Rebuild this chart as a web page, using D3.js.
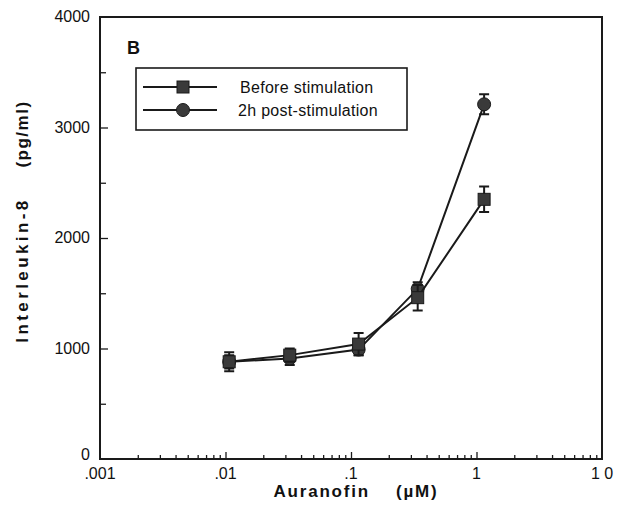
<!DOCTYPE html>
<html>
<head>
<meta charset="utf-8">
<script src="https://cdn.jsdelivr.net/npm/d3@7"></script>
<style>
  html, body { margin: 0; padding: 0; background: #fff; }
  svg { display: block; }
  text { font-family: "Liberation Sans", Arial, Helvetica, sans-serif; fill: #111; }
</style>
</head>
<body>
<svg id="chart" width="624" height="505"></svg>
<script>
// Auranofin concentrations (µM) and IL-8 levels (pg/ml)
const doses = [0.0107, 0.0325, 0.115, 0.34, 1.15];
const beforeStim = [880, 940, 1040, 1460, 2350];
const beforeErr = [85, 60, 100, 115, 115];
const postStim = [880, 910, 990, 1540, 3210];
const postErr = [60, 60, 50, 60, 90];
const yTicks = [0, 1000, 2000, 3000, 4000];
const xTicks = [0.001, 0.01, 0.1, 1, 10];
const xTickLabels = [".001", ".01", ".1", "1", "1 0"];
const seriesNames = ["Before stimulation", "2h post-stimulation"];

const svg = d3.select("#chart");
const ink = "#1a1a1a";
const markFill = "#3a3a3a";

const x = d3.scaleLog().domain([0.001, 10]).range([100, 602]);
const y = d3.scaleLinear().domain([0, 4000]).range([459, 17]);

// plot frame
svg.append("rect")
  .attr("x", x.range()[0]).attr("y", y.range()[1])
  .attr("width", x.range()[1] - x.range()[0])
  .attr("height", y.range()[0] - y.range()[1])
  .attr("fill", "none").attr("stroke", ink).attr("stroke-width", 2);

// left axis: major ticks at 1000s, minor at 500s, pointing inward
const yAxis = svg.append("g").attr("transform", `translate(${x.range()[0]},0)`);
yAxis.call(d3.axisRight(y).tickValues(d3.range(500, 4000, 1000)).tickSize(6).tickFormat(""));
yAxis.call(g => g.select(".domain").remove());
const yMajor = svg.append("g").attr("transform", `translate(${x.range()[0]},0)`);
yMajor.call(d3.axisRight(y).tickValues(yTicks.slice(1, -1)).tickSize(8).tickFormat(""));
yMajor.call(g => g.select(".domain").remove());
svg.selectAll(".tick line").attr("stroke", ink).attr("stroke-width", 1.5);

// the zero label sits a little higher so it clears the first x label
svg.append("g").selectAll("text").data(yTicks).join("text")
  .attr("x", 90).attr("y", d => y(d) + (d === 0 ? 1 : 5))
  .attr("text-anchor", "end")
  .style("font-size", "16px")
  .text(d => d);

// bottom axis: log ticks pointing inward
const minor = [];
for (let e = -3; e < 1; e++) {
  for (let m = 2; m <= 9; m++) minor.push(m * Math.pow(10, e));
}
const xMinor = svg.append("g").attr("transform", `translate(0,${y.range()[0]})`);
xMinor.call(d3.axisTop(x).tickValues(minor).tickSize(4).tickFormat(""));
xMinor.call(g => g.select(".domain").remove());
const xMajor = svg.append("g").attr("transform", `translate(0,${y.range()[0]})`);
xMajor.call(d3.axisTop(x).tickValues(xTicks.slice(1, -1)).tickSize(7).tickFormat(""));
xMajor.call(g => g.select(".domain").remove());
svg.selectAll(".tick line").attr("stroke", ink).attr("stroke-width", 1.3);

svg.append("g").selectAll("text").data(xTicks).join("text")
  .attr("x", d => x(d)).attr("y", 479)
  .attr("text-anchor", "middle")
  .style("font-size", "16px")
  .text((d, i) => xTickLabels[i]);

// axis titles
svg.append("text")
  .attr("x", 356).attr("y", 497)
  .attr("text-anchor", "middle")
  .style("font-size", "17px").style("font-weight", "bold").style("letter-spacing", "1.8px")
  .attr("xml:space", "preserve")
  .text("Auranofin    (\u00b5M)");

const yTitle = svg.append("g").attr("transform", "translate(28,0) rotate(-90)");
yTitle.append("text")
  .attr("x", -270).attr("y", 0)
  .attr("text-anchor", "middle")
  .style("font-size", "17px").style("font-weight", "bold").style("letter-spacing", "3.4px")
  .text("Interleukin-8");
yTitle.append("text")
  .attr("x", -134).attr("y", 0)
  .attr("text-anchor", "middle")
  .style("font-size", "17px").style("font-weight", "bold").style("letter-spacing", "1.5px")
  .text("(pg/ml)");

// panel letter
svg.append("text")
  .attr("x", 127).attr("y", 54)
  .style("font-size", "18px").style("font-weight", "bold")
  .text("B");

// series
const series = [
  { name: seriesNames[1], vals: postStim, err: postErr, shape: "circle" },
  { name: seriesNames[0], vals: beforeStim, err: beforeErr, shape: "square" }
];

const line = d3.line().x(d => x(d[0])).y(d => y(d[1]));

series.forEach(s => {
  const pts = doses.map((d, i) => [d, s.vals[i], s.err[i]]);
  const g = svg.append("g");
  g.append("path").datum(pts).attr("d", line)
    .attr("fill", "none").attr("stroke", ink).attr("stroke-width", 2);
  // error bars
  g.selectAll(".eb").data(pts).join("path")
    .attr("d", d => {
      const cx = x(d[0]), t = y(d[1] + d[2]), b = y(d[1] - d[2]);
      return `M${cx},${t}V${b}M${cx - 5},${t}H${cx + 5}M${cx - 5},${b}H${cx + 5}`;
    })
    .attr("fill", "none").attr("stroke", ink).attr("stroke-width", 2);
  if (s.shape === "circle") {
    g.selectAll(".m").data(pts).join("circle")
      .attr("cx", d => x(d[0])).attr("cy", d => y(d[1])).attr("r", 6.5)
      .attr("fill", markFill).attr("stroke", ink).attr("stroke-width", 1);
  } else {
    g.selectAll(".m").data(pts).join("rect")
      .attr("x", d => x(d[0]) - 6).attr("y", d => y(d[1]) - 6)
      .attr("width", 12).attr("height", 12)
      .attr("fill", markFill).attr("stroke", ink).attr("stroke-width", 1);
  }
});

// legend
const lg = svg.append("g");
lg.append("rect").attr("x", 136).attr("y", 68).attr("width", 271).attr("height", 62)
  .attr("fill", "#fff").attr("stroke", ink).attr("stroke-width", 1.6);
const legendRows = [
  { label: seriesNames[0], shape: "square", yy: 87, tx: 240 },
  { label: seriesNames[1], shape: "circle", yy: 110, tx: 238 }
];
legendRows.forEach(r => {
  lg.append("line").attr("x1", 143).attr("x2", 217).attr("y1", r.yy).attr("y2", r.yy)
    .attr("stroke", ink).attr("stroke-width", 2);
  if (r.shape === "square") {
    lg.append("rect").attr("x", 183 - 6).attr("y", r.yy - 6).attr("width", 12).attr("height", 12)
      .attr("fill", markFill).attr("stroke", ink).attr("stroke-width", 1);
  } else {
    lg.append("circle").attr("cx", 183).attr("cy", r.yy).attr("r", 6.5)
      .attr("fill", markFill).attr("stroke", ink).attr("stroke-width", 1);
  }
  lg.append("text").attr("x", r.tx).attr("y", r.yy + 6)
    .style("font-size", "16px").style("letter-spacing", "0.3px")
    .text(r.label);
});
</script>
</body>
</html>
